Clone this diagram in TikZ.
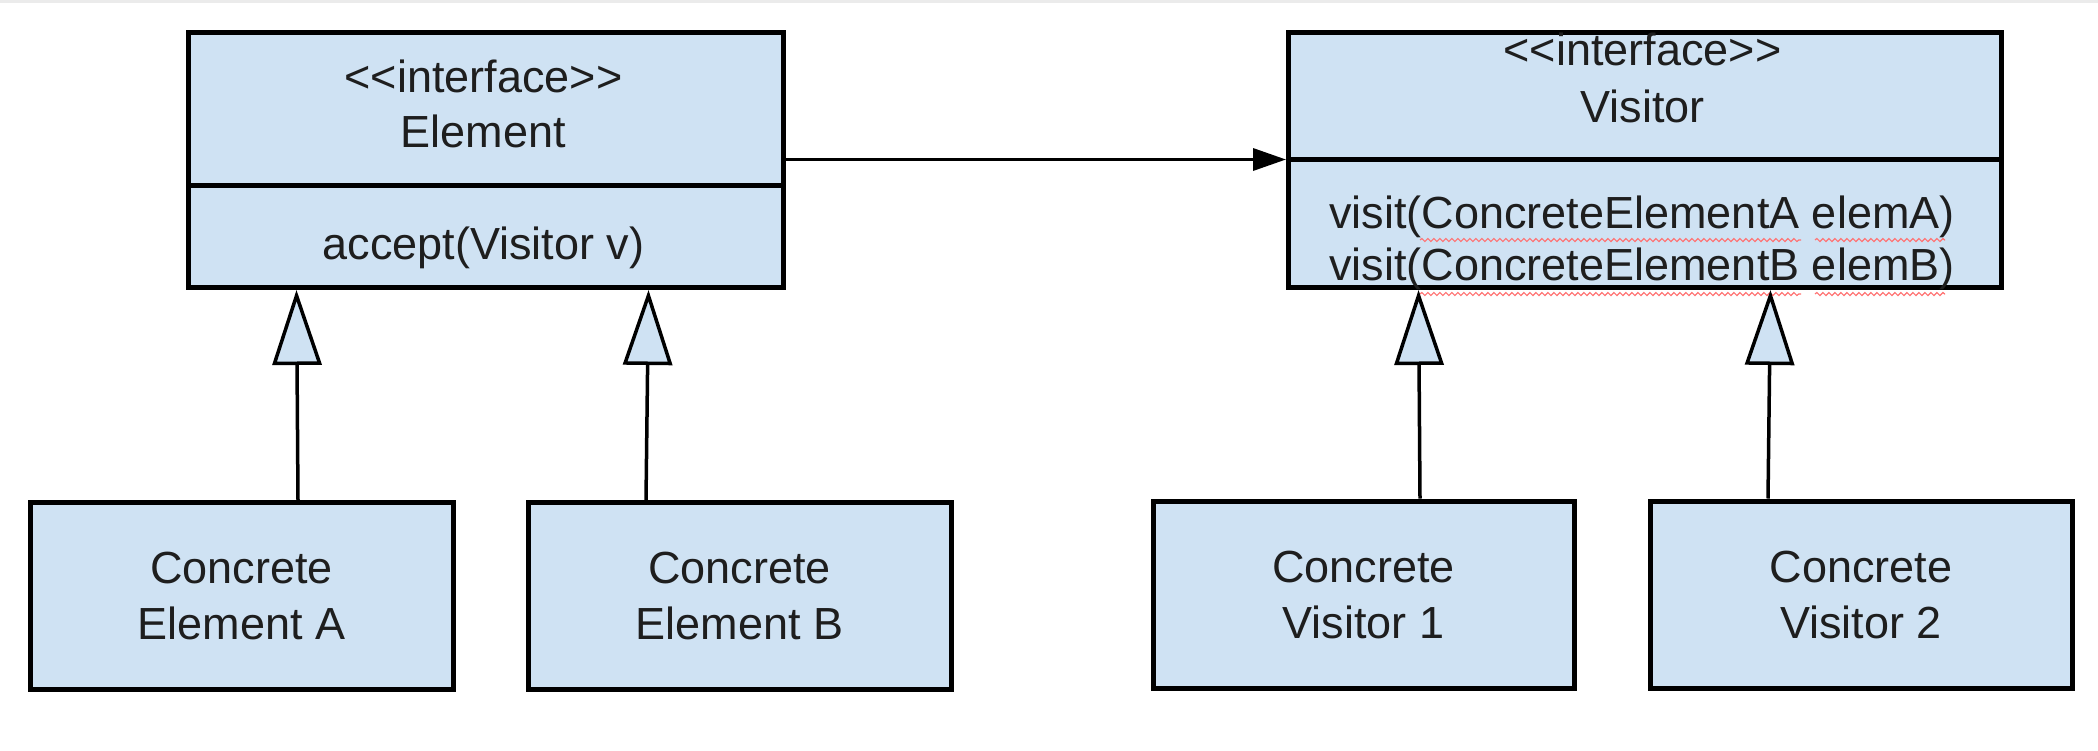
\documentclass[tikz,border=0pt]{standalone}
\usepackage{fontspec}
\newfontfamily\umlfont{Liberation Sans}
\usetikzlibrary{arrows.meta,decorations.pathmorphing}
\definecolor{boxblue}{HTML}{CFE2F3}
\definecolor{inktext}{HTML}{1E1E1E}
\tikzset{
  umlbox/.style={draw=black, fill=boxblue, line width=5pt, inner sep=0pt},
  umltext/.style={font=\umlfont\fontsize{45}{#1}\selectfont, text=inktext, align=center, inner sep=0pt},
  umltext/.default=56,
  inherit/.style={line width=3.5pt, -{Triangle[length=75pt,width=49pt,fill=boxblue]}},
  assoc/.style={line width=3.5pt, -{Triangle[length=33pt,width=22pt]}},
  spell/.style={draw=red!55, line width=1.2pt, decorate, decoration={snake, amplitude=1.5pt, segment length=6pt}}
}
\begin{document}
\begin{tikzpicture}[x=1pt,y=-1pt]
    \fill[white] (0,0) rectangle (2098,750);
    \fill[black!8] (0,0) rectangle (2098,3);
    \useasboundingbox (0,0) rectangle (2098,750);
    % interface Element
    \node[umlbox, minimum width=595pt, minimum height=153pt, anchor=north west] (elemhead) at (186,30) {};
    \node[umlbox, minimum width=595pt, minimum height=102pt, anchor=north west] (elembody) at (186,183) {};
    \node[umltext=55] (elemname) at (483.5,104) {<<interface>>\\Element};
    \node[umltext] (elemop) at (483.5,248) {accept(Visitor v)};
    % interface Visitor
    \node[umlbox, minimum width=713pt, minimum height=127pt, anchor=north west] (vishead) at (1286,30) {};
    \node[umlbox, minimum width=713pt, minimum height=128pt, anchor=north west] (visbody) at (1286,157) {};
    \node[umltext=57] (visname) at (1642.5,78) {<<interface>>\\Visitor};
    \node[umltext=52] (visops) at (1642,243) {visit(ConcreteElementA elemA)\\visit(ConcreteElementB elemB)};
    \draw[spell] (1420,240) -- (1801,240);
    \draw[spell] (1815,240) -- (1945,240);
    \draw[spell] (1420,294) -- (1801,294);
    \draw[spell] (1815,294) -- (1945,294);
    % concrete classes
    \node[umlbox, umltext, minimum width=423pt, minimum height=187pt] (elemA) at (241.5,596) {Concrete\\Element A};
    \node[umlbox, umltext, minimum width=423pt, minimum height=187pt] (elemB) at (739.5,596) {Concrete\\Element B};
    \node[umlbox, umltext, minimum width=421pt, minimum height=187pt] (visA) at (1363.5,594.5) {Concrete\\Visitor 1};
    \node[umlbox, umltext, minimum width=422pt, minimum height=187pt] (visB) at (1861,594.5) {Concrete\\Visitor 2};
    % arrows
    \draw[inherit] ([xshift=56.5pt]elemA.north) -- ([xshift=-189.5pt]elembody.south);
    \draw[inherit] ([xshift=-93.5pt]elemB.north) -- ([xshift=162.5pt]elembody.south);
    \draw[inherit] ([xshift=56.5pt]visA.north) -- ([xshift=-226.5pt]visbody.south);
    \draw[inherit] ([xshift=-93pt]visB.north) -- ([xshift=125.5pt]visbody.south);
    \path ([yshift=-50.5pt]elemhead.east) coordinate (assocstart);
    \draw[assoc] (assocstart) -- (assocstart -| vishead.west);
\end{tikzpicture}
\end{document}
